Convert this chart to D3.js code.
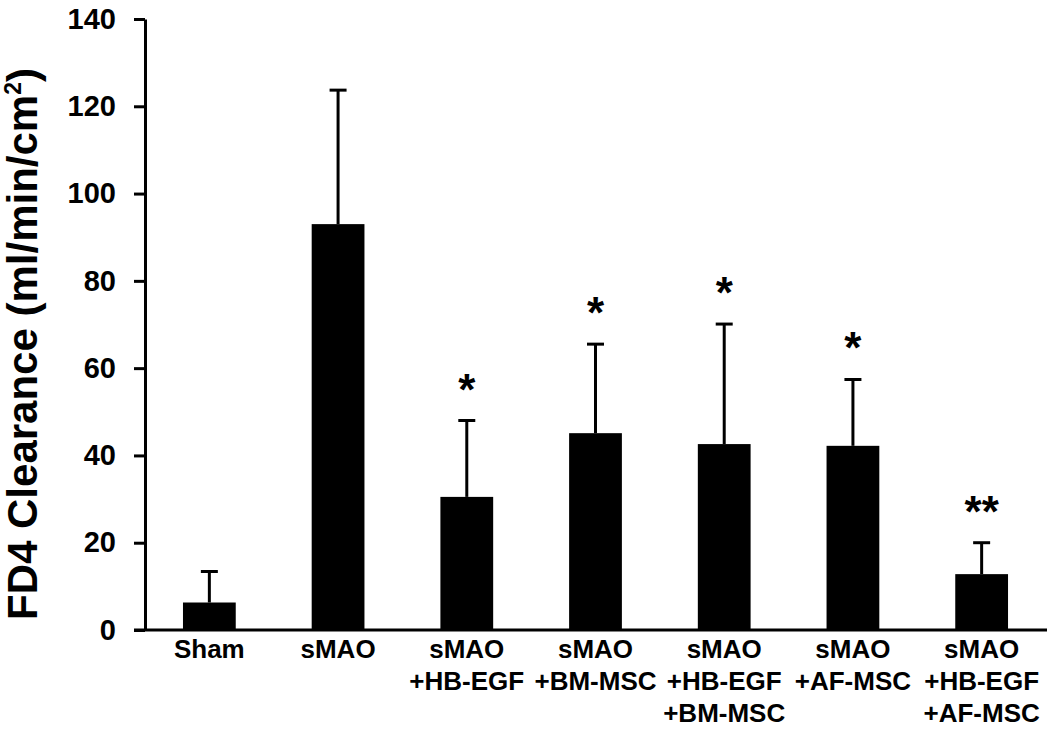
<!DOCTYPE html>
<html lang="en">
<head>
  <meta charset="UTF-8">
  <title>FD4 Clearance</title>
  <script src="https://cdn.jsdelivr.net/npm/d3@7"></script>
  <style>
    body { margin: 0; background: #fff; }
    svg { display: block; font-family: "Liberation Sans", Arial, sans-serif; }
  </style>
</head>
<body>
<svg id="chart"></svg>
<script>
  // group labels (one entry per line)
  const categories = [
    ["Sham"],
    ["sMAO"],
    ["sMAO", "+HB-EGF"],
    ["sMAO", "+BM-MSC"],
    ["sMAO", "+HB-EGF", "+BM-MSC"],
    ["sMAO", "+AF-MSC"],
    ["sMAO", "+HB-EGF", "+AF-MSC"]
  ]
  const means = [6.3, 93.0, 30.5, 45.1, 42.6, 42.2, 12.8]
  const errors = [7.1, 30.7, 17.5, 20.4, 27.5, 15.2, 7.2]
  const stars = ["", "", "*", "*", "*", "*", "**"]
  const yTicks = [0, 20, 40, 60, 80, 100, 120, 140]

  const width = 1050
  const height = 730
  const margin = {top: 19, right: 4, bottom: 100, left: 145}

  const svg = d3.select("#chart")
    .attr("width", width)
    .attr("height", height)

  const x = d3.scaleBand()
    .domain(d3.range(categories.length))
    .range([margin.left, width - margin.right])
    .paddingInner(0.59)
    .paddingOuter(0.295)

  const y = d3.scaleLinear()
    .domain([0, 140])
    .range([height - margin.bottom, margin.top])

  // bars
  svg.append("g")
    .selectAll("rect")
    .data(means)
    .join("rect")
      .attr("x", (d, i) => x(i))
      .attr("y", d => y(d))
      .attr("width", x.bandwidth())
      .attr("height", d => y(0) - y(d))
      .attr("fill", "#000")

  // error bars (upper only)
  const err = svg.append("g")
    .attr("stroke", "#000")
    .attr("stroke-width", 3)
  means.forEach((m, i) => {
    const cx = x(i) + x.bandwidth() / 2
    err.append("line")
      .attr("x1", cx).attr("x2", cx)
      .attr("y1", y(m)).attr("y2", y(m + errors[i]))
    err.append("line")
      .attr("x1", cx - 8.5).attr("x2", cx + 8.5)
      .attr("y1", y(m + errors[i])).attr("y2", y(m + errors[i]))
  })

  // significance marks
  svg.append("g")
    .selectAll("text")
    .data(stars)
    .join("text")
      .attr("x", (d, i) => x(i) + x.bandwidth() / 2)
      .attr("y", (d, i) => y(means[i] + errors[i]) - 16)
      .attr("text-anchor", "middle")
      .attr("font-size", 44)
      .attr("font-weight", "bold")
      .text(d => d)

  // y axis
  const yAxis = svg.append("g")
    .attr("transform", `translate(${margin.left},0)`)
    .call(d3.axisLeft(y).tickValues(yTicks).tickSize(11).tickPadding(18).tickSizeOuter(0))
  yAxis.select(".domain").attr("stroke-width", 3)
  yAxis.selectAll(".tick line").attr("stroke-width", 3)
  yAxis.selectAll(".tick text")
    .attr("font-size", 29)
    .attr("font-weight", "bold")
    .attr("font-family", "'Liberation Sans', Arial, sans-serif")
    .attr("fill", "#000")

  // x axis baseline
  svg.append("line")
    .attr("x1", margin.left - 11)
    .attr("x2", width - 3)
    .attr("y1", y(0)).attr("y2", y(0))
    .attr("stroke", "#000")
    .attr("stroke-width", 3)

  // x labels
  const xl = svg.append("g")
    .selectAll("text")
    .data(categories)
    .join("text")
      .attr("x", (d, i) => x(i) + x.bandwidth() / 2)
      .attr("y", y(0) + 28)
      .attr("text-anchor", "middle")
      .attr("font-size", 26)
      .attr("font-weight", "bold")
  xl.selectAll("tspan")
    .data(d => d)
    .join("tspan")
      .attr("x", function() { return this.parentNode.getAttribute("x") })
      .attr("dy", (d, j) => j === 0 ? 0 : 32)
      .text(d => d)

  // y title
  const title = svg.append("text")
    .attr("transform", "translate(37,344) rotate(-90)")
    .attr("text-anchor", "middle")
    .attr("font-size", 42)
    .attr("font-weight", "bold")
  title.append("tspan").text("FD4 Clearance (ml/min/cm")
  title.append("tspan").attr("font-size", 23).attr("dy", -16).text("2")
  title.append("tspan").attr("dy", 16).text(")")
</script>
</body>
</html>
